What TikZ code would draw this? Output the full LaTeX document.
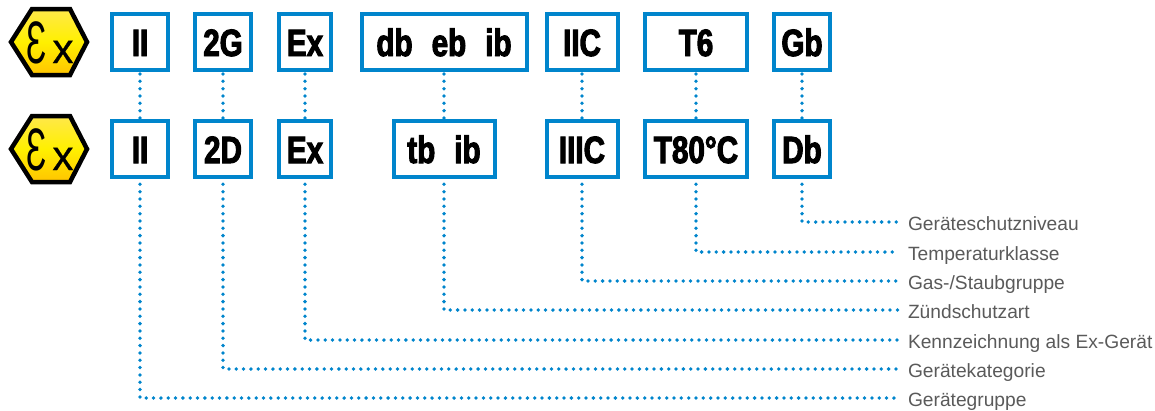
\documentclass[tikz,border=0pt]{standalone}
\usepackage{fontspec}
\setmainfont{Liberation Sans}
\newfontfamily\boxfont[FakeStretch=0.78,FakeBold=2.6]{Liberation Sans Bold}
\newfontfamily\exfont[FakeBold=0.6]{Liberation Sans}
\newfontfamily\exnarrow[FakeStretch=0.56]{Liberation Sans}
\definecolor{exblue}{HTML}{0085CC}
\definecolor{labgray}{HTML}{5A5A5A}
\definecolor{hextop}{HTML}{FFE84A}
\definecolor{hexmid}{HTML}{FFF000}
\definecolor{hexbot}{HTML}{FFC400}
\tikzset{
  codebox/.style={draw=exblue,line width=4pt,fill=white,outer sep=0pt,inner sep=0pt,
    minimum height=56pt,text height=28pt,text depth=0pt,font=\boxfont\fontsize{38}{38}\selectfont},
  lab/.style={anchor=west,inner ysep=0pt,inner xsep=10pt,outer sep=0pt,text height=16pt,text depth=0pt,
    text=labgray,font=\fontsize{19.2}{20}\selectfont},
  upper/.style={draw=exblue,line width=3.8pt,line cap=round,dash pattern=on 0pt off 7.33pt,dash phase=3.33pt},
  lower/.style={draw=exblue,line width=3.8pt,line cap=round,dash pattern=on 0pt off 7.33pt,dash phase=0pt},
  hexsign/.style={draw=black,line width=4.5pt,line join=miter,top color=hextop,bottom color=hexbot,middle color=hexmid},
  extext/.style={inner sep=0pt,anchor=base west},
}
\begin{document}
\begin{tikzpicture}[x=1pt,y=-1pt]
\useasboundingbox (0,0) rectangle (1155,410);
\foreach \cy/\nm in {42/a,149/b}{
  \path[hexsign] (11,\cy) -- (32,\cy-33) -- (70,\cy-33) -- (87,\cy) -- (70,\cy+33) -- (32,\cy+33) -- cycle;
  \node[extext] (hex\nm) at (26,\cy+21) {{\exnarrow\fontsize{60}{60}\selectfont Ɛ}\hspace{6pt}{\exfont\fontsize{42}{42}\selectfont x}};
}
% row 1
\node[codebox,minimum width=56pt]  (a1) at (140,42) {II};
\node[codebox,minimum width=56pt]  (a2) at (223,42) {2G};
\node[codebox,minimum width=52pt]  (a3) at (305,42) {Ex};
\node[codebox,minimum width=165pt] (a4) at (444,42) {db\hspace{19pt}eb\hspace{19pt}ib};
\node[codebox,minimum width=71pt]  (a5) at (582,42) {IIC};
\node[codebox,minimum width=102pt] (a6) at (696,42) {T6};
\node[codebox,minimum width=56pt]  (a7) at (802,42) {Gb};
% row 2
\node[codebox,minimum width=56pt]  (b1) at (140,149) {II};
\node[codebox,minimum width=56pt]  (b2) at (223,149) {2D};
\node[codebox,minimum width=52pt]  (b3) at (305,149) {Ex};
\node[codebox,minimum width=101pt] (b4) at (444,149) {tb\hspace{19pt}ib};
\node[codebox,minimum width=71pt]  (b5) at (582,149) {IIIC};
\node[codebox,minimum width=102pt] (b6) at (696,149) {T80°C};
\node[codebox,minimum width=56pt]  (b7) at (802,149) {Db};
% labels
\node[lab] (l7) at (898,222) {Geräteschutzniveau};
\node[lab] (l6) at (898,252) {Temperaturklasse};
\node[lab] (l5) at (898,281) {Gas-/Staubgruppe};
\node[lab] (l4) at (898,310) {Zündschutzart};
\node[lab] (l3) at (898,340) {Kennzeichnung als Ex-Gerät};
\node[lab] (l2) at (898,369) {Gerätekategorie};
\node[lab] (l1) at (898,398) {Gerätegruppe};
% connectors
\foreach \i in {1,...,7}{
  \draw[upper] (a\i.south) -- (b\i.north);
  \draw[lower] (b\i.south) |- (l\i.west);
}
\end{tikzpicture}
\end{document}
